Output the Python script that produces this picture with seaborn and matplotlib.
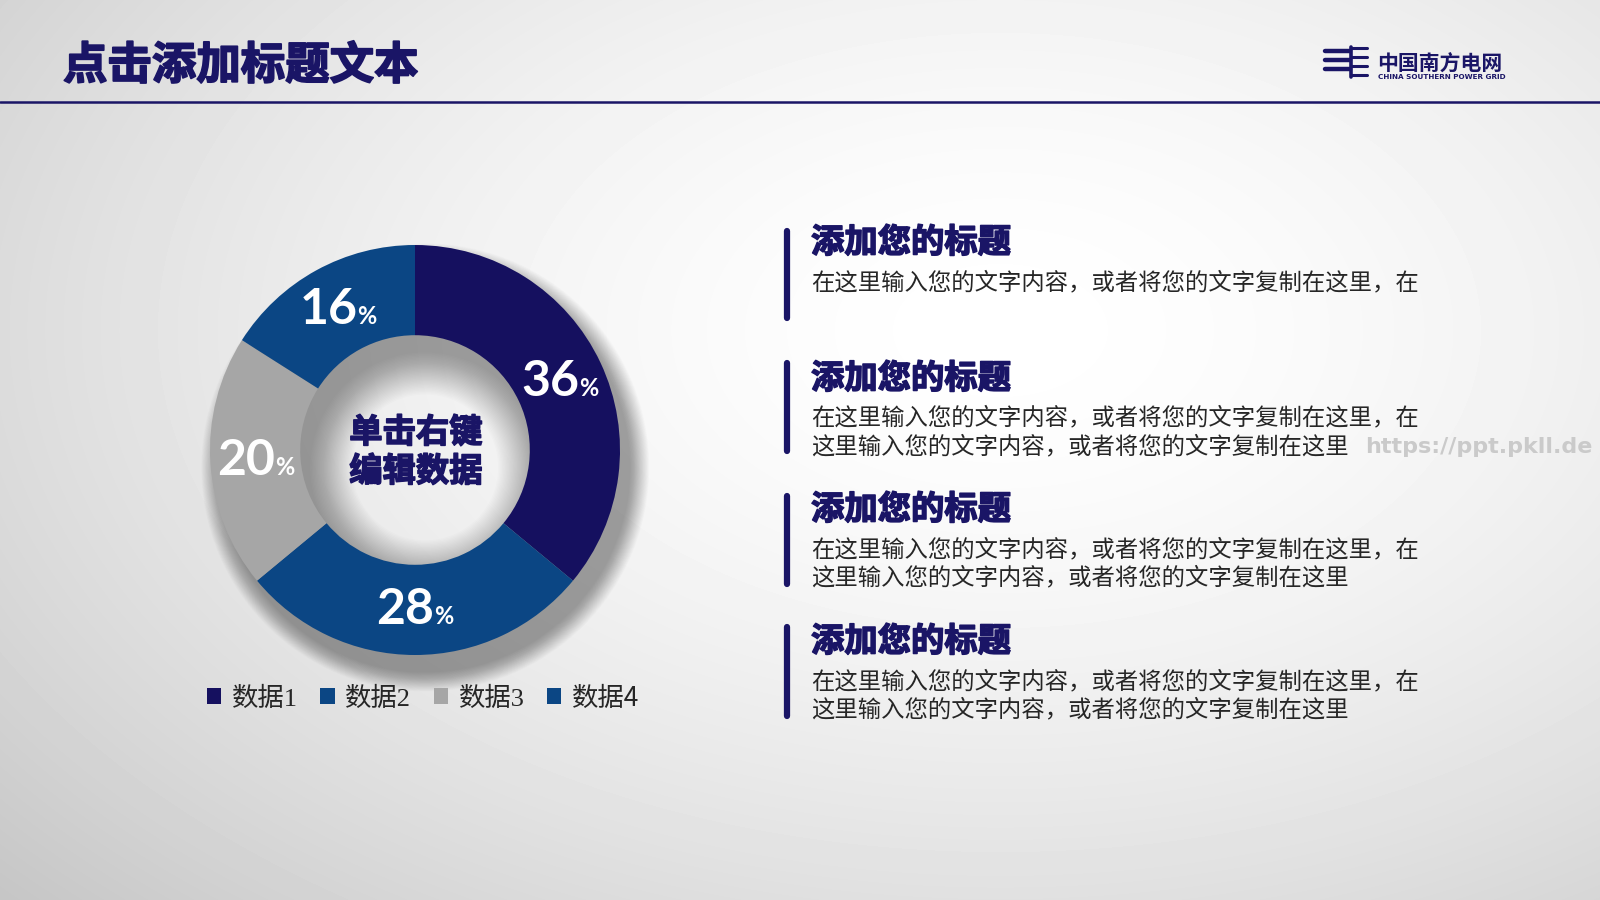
import numpy as np
import matplotlib
matplotlib.use("Agg")
import matplotlib.pyplot as plt
import matplotlib.patheffects as pe
from matplotlib.patches import Wedge
from matplotlib.lines import Line2D
from matplotlib.offsetbox import TextArea, HPacker, AnnotationBbox
import seaborn as sns

# data
categories = ["数据1", "数据2", "数据3", "数据4"]
shares = [36, 28, 20, 16]
slice_colors = ["#15105f", "#0b4684", "#a6a6a6", "#0b4684"]
center_lines = ["单击右键", "编辑数据"]
page_title = "点击添加标题文本"
logo_cn = "中国南方电网"
logo_en = "CHINA SOUTHERN POWER GRID"
headings = ["添加您的标题", "添加您的标题", "添加您的标题", "添加您的标题"]
line_a = "在这里输入您的文字内容，或者将您的文字复制在这里，在"
line_b = "这里输入您的文字内容，或者将您的文字复制在这里"
bodies = [[line_a], [line_a, line_b], [line_a, line_b], [line_a, line_b]]
watermark = "https://ppt.pkll.de"

NAVY = "#1a1566"
W, H = 1600, 900

sns.set_theme(style="white")
plt.rcParams["font.family"] = ["Noto Sans CJK SC", "DejaVu Sans"]

heavy = [pe.withStroke(linewidth=1.1, foreground=NAVY)]


def fx(x):
    return x / W


def fy(y):
    return 1 - y / H


fig = plt.figure(figsize=(16, 9), dpi=100)

# soft grey page background
bg = fig.add_axes([0, 0, 1, 1], zorder=-10)
yy, xx = np.mgrid[0:H, 0:W]
d = np.sqrt(((xx - 1000) / 1050) ** 2 + ((yy - 330) / 650) ** 2)
shade = 1 - 0.15 * np.clip(d, 0, 1.3) ** 1.6
bg.imshow(shade, cmap="gray", vmin=0, vmax=1, extent=(0, 1, 0, 1), aspect="auto", origin="upper")
bg.axis("off")

# header
fig.text(fx(63), fy(66), page_title, fontsize=32, weight="heavy", color=NAVY, va="center", ha="left",
         path_effects=[pe.withStroke(linewidth=1.3, foreground=NAVY)])
fig.add_artist(Line2D([0, 1], [fy(102), fy(102)], color=NAVY, lw=1.8))

# logo
for y in [51, 60, 69]:
    fig.add_artist(Line2D([fx(1325), fx(1350)], [fy(y), fy(y)], color=NAVY, lw=3.2, solid_capstyle="round"))
fig.add_artist(Line2D([fx(1351), fx(1351)], [fy(47), fy(77)], color=NAVY, lw=2.6))
for y in [48, 57, 66, 75]:
    fig.add_artist(Line2D([fx(1351), fx(1367)], [fy(y), fy(y)], color=NAVY, lw=2.2))
fig.text(fx(1377), fy(64), logo_cn, fontsize=15, weight="bold", color=NAVY, va="center", ha="left")
fig.text(fx(1378), fy(77), logo_en, fontsize=5.2, weight="bold", color=NAVY, va="center", ha="left",
         family="DejaVu Sans")

# donut
cx, cy, R = 415, 450, 205
ax = fig.add_axes([fx(cx - R), fy(cy + R), 2 * R / W, 2 * R / H])
wedges, _ = ax.pie(shares, colors=slice_colors, startangle=90, counterclock=False, radius=1,
                   wedgeprops=dict(width=0.44, edgecolor="none"))
for w in wedges:
    w.set_zorder(3)
    w.set_clip_on(False)
ax.set_xlim(-1, 1)
ax.set_ylim(-1, 1)
ax.set_aspect("equal")

# blurred drop shadow (softer on the inner rim)
for i in range(32):
    s = i * 0.003
    r_out = 1.0 + s
    r_in = max(0.56 - 2.2 * s, 0.3)
    sh = Wedge((0.05, -0.085), r_out, 0, 360, width=r_out - r_in,
               facecolor="black", alpha=0.012, lw=0, zorder=1, clip_on=False)
    ax.add_patch(sh)

# percentage labels
for w, v in zip(wedges, shares):
    t = np.deg2rad((w.theta1 + w.theta2) / 2)
    r = 0.78
    big = TextArea(str(v), textprops=dict(color="white", fontsize=36, weight="bold", family="Lato"))
    small = TextArea("%", textprops=dict(color="white", fontsize=17, weight="bold", family="Lato"))
    box = HPacker(children=[big, small], align="baseline", pad=0, sep=0)
    ab = AnnotationBbox(box, (r * np.cos(t), r * np.sin(t)), frameon=False, box_alignment=(0.5, 0.5),
                        zorder=5, annotation_clip=False)
    ax.add_artist(ab)

for y, s in zip([433, 472], center_lines):
    fig.text(fx(416), fy(y), s, fontsize=24, weight="heavy", color=NAVY, ha="center", va="center",
             path_effects=heavy)

leg = ax.legend(wedges, categories, loc="center", bbox_to_anchor=(fx(423), fy(698)),
                bbox_transform=fig.transFigure, ncol=4, frameon=False, fontsize=19,
                handlelength=0.55, handleheight=0.55, handletextpad=0.4, columnspacing=0.85)
for txt in leg.get_texts()[:3]:
    txt.set_family(["Liberation Serif", "Noto Sans CJK SC"])
for txt in leg.get_texts():
    txt.set_color("#262626")

# text blocks
bar_spans = [(228, 321), (360, 454), (493, 587), (624, 719)]
head_y = [243, 379, 510, 642]
body_y = [[283], [418, 447], [550, 578], [682, 710]]
for (y0, y1), hy, by, head, lines in zip(bar_spans, head_y, body_y, headings, bodies):
    fig.add_artist(Line2D([fx(787), fx(787)], [fy(y0 + 3), fy(y1 - 3)], color=NAVY, lw=4.5,
                          solid_capstyle="round"))
    fig.text(fx(811), fy(hy), head, fontsize=24, weight="heavy", color=NAVY, va="center", ha="left",
             path_effects=heavy)
    for yy_, ln in zip(by, lines):
        fig.text(fx(811), fy(yy_), ln, fontsize=16.8, color="#262626", va="center", ha="left")

fig.text(fx(1365), fy(447), watermark, fontsize=16, weight="bold", color="#cacaca", va="center",
         ha="left", family="DejaVu Sans")

fig.savefig("out.png", dpi=100)
